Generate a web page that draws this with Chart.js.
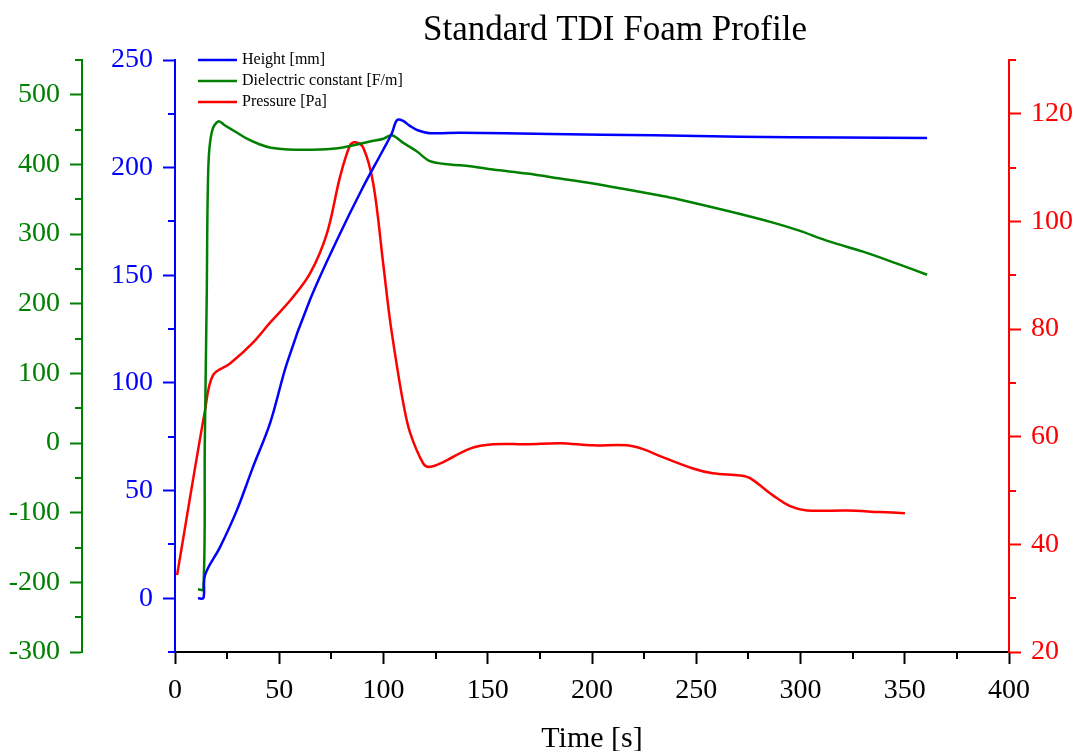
<!DOCTYPE html>
<html>
<head>
<meta charset="utf-8">
<title>Standard TDI Foam Profile</title>
<script src="https://cdn.jsdelivr.net/npm/chart.js@4/dist/chart.umd.min.js"></script>
<style>
  html, body { margin: 0; padding: 0; background: #fff; }
  #wrap { width: 1076px; height: 751px; position: relative; }
</style>
</head>
<body>
<div id="wrap"><canvas id="foamChart"></canvas></div>
<script>
// Height [mm] against time [s]
var heightTime   = [11, 13.6, 14.4, 21.6, 29.7, 37.4, 45.6, 53.7, 64.7, 77.7, 90.2, 99.8, 104, 106.5, 109.4, 112.5, 116.1, 122.3, 136.7, 180, 230, 271, 320, 360.7];
var heightValues = [0, 0, 10.7, 23.7, 40.9, 60.9, 81.3, 109.2, 138.5, 166.4, 191, 208.2, 216, 222.1, 221.7, 219.5, 217.5, 216, 216.2, 215.6, 215, 214.4, 214, 213.8];

// Dielectric constant [F/m]
var dielTime   = [11, 13.6, 14.3, 15.2, 16.0, 17.6, 20.8, 24, 29, 34.5, 40.5, 46, 54, 69.5, 80.5, 93.5, 100, 104, 109.5, 115.9, 122.3, 131.9, 141.5, 152.5, 168.8, 184.7, 200.5, 216.8, 232.6, 240.8, 266.2, 286.8, 298.3, 314.1, 330, 346.3, 360.7];
var dielValues = [-210, -210, 0, 206, 397, 446, 462, 456, 447, 437, 429, 424, 421.6, 421.6, 424.5, 433, 437, 442, 431, 419, 404.8, 400, 397.6, 392.8, 387, 379.9, 372.7, 364, 355.4, 350.5, 332.4, 316.5, 306, 289.2, 274.8, 257.6, 241.7];

// Pressure [Pa]
var pressTime   = [1, 14.4, 18.2, 26.4, 37.4, 45.6, 55.2, 64.7, 72.8, 79.1, 83.9, 86.3, 90.3, 95.1, 99.9, 103, 106.3, 109.5, 112.7, 119.1, 122.3, 128.7, 141.5, 152.5, 168.8, 184.7, 200.5, 216.8, 224.5, 232.6, 248.4, 258, 271, 275.8, 286.8, 295, 303.1, 322.3, 338.1, 350.1];
var pressValues = [34.3, 64.9, 71.4, 73.6, 77.5, 81.2, 85.3, 90.3, 97.7, 108.2, 114.1, 114.7, 113.7, 107, 92, 82, 73.5, 66.2, 60.8, 55, 54.4, 55.3, 57.8, 58.6, 58.6, 58.8, 58.4, 58.4, 57.7, 56.4, 54.1, 53.2, 52.8, 52.3, 49.1, 47.1, 46.3, 46.3, 46.0, 45.8];

// labelled tick values for each axis
var timeTicks   = [0, 50, 100, 150, 200, 250, 300, 350, 400];
var heightTicks = [0, 50, 100, 150, 200, 250];
var dielTicks   = [-300, -200, -100, 0, 100, 200, 300, 400, 500];
var pressTicks  = [20, 40, 60, 80, 100, 120];

var serif = "'Liberation Serif', 'Times New Roman', serif";

function toPoints(xs, ys) {
    return xs.map(function (x, i) { return { x: x, y: ys[i] }; });
}

function fixedTicks(list) {
    return function (scale) {
        scale.ticks = list.map(function (v) { return { value: v }; });
    };
}

function yAxis(color, min, max, ticks, position, weight, width) {
    return {
        type: "linear",
        position: position,
        weight: weight,
        min: min,
        max: max,
        afterBuildTicks: fixedTicks(ticks),
        afterFit: function (scale) { scale.width = width; },
        ticks: { color: color, font: { family: serif, size: 28 }, padding: 10 },
        grid: { drawOnChartArea: false, tickLength: 12, tickWidth: 2, tickColor: color },
        border: { color: color, width: 2 }
    };
}

// short tick marks halfway between the labelled ones
var minorTicks = {
    id: "minorTicks",
    afterDraw: function (chart) {
        var ctx = chart.ctx;
        ctx.save();
        ctx.lineWidth = 2;
        Object.keys(chart.scales).forEach(function (id) {
            var s = chart.scales[id];
            var t = s.ticks;
            var step = t[1].value - t[0].value;
            ctx.strokeStyle = s.options.border.color;
            for (var v = t[0].value - step / 2; v <= s.max + 1e-9; v += step) {
                if (v < s.min - 1e-9) continue;
                var p = Math.round(s.getPixelForValue(v));
                ctx.beginPath();
                if (s.isHorizontal()) {
                    ctx.moveTo(p, s.top); ctx.lineTo(p, s.top + 7);
                } else if (s.position === "left") {
                    ctx.moveTo(s.right, p); ctx.lineTo(s.right - 7, p);
                } else {
                    ctx.moveTo(s.left, p); ctx.lineTo(s.left + 7, p);
                }
                ctx.stroke();
            }
        });
        ctx.restore();
    }
};

// legend in the top left corner of the plot and the chart heading
var cornerLegend = {
    id: "cornerLegend",
    afterDraw: function (chart) {
        var ctx = chart.ctx, a = chart.chartArea;
        ctx.save();
        ctx.font = "16px " + serif;
        ctx.textBaseline = "middle";
        chart.data.datasets.forEach(function (ds, i) {
            var y = a.top + 21 * i;
            ctx.strokeStyle = ds.borderColor;
            ctx.lineWidth = 2.5;
            ctx.beginPath();
            ctx.moveTo(a.left + 23, y);
            ctx.lineTo(a.left + 62, y);
            ctx.stroke();
            ctx.fillStyle = "#000";
            ctx.fillText(ds.label, a.left + 67, y);
        });
        ctx.font = "35px " + serif;
        ctx.textAlign = "center";
        ctx.fillText("Standard TDI Foam Profile", (a.left + a.right) / 2 + 23, 31);
        ctx.restore();
    }
};

var ctx = document.getElementById("foamChart").getContext("2d");

var foamChart = new Chart(ctx, {
    type: "line",
    data: {
        datasets: [{
            label: "Height [mm]",
            data: toPoints(heightTime, heightValues),
            borderColor: "#0000ff",
            yAxisID: "yHeight"
        }, {
            label: "Dielectric constant [F/m]",
            data: toPoints(dielTime, dielValues),
            borderColor: "#008000",
            yAxisID: "yDiel"
        }, {
            label: "Pressure [Pa]",
            data: toPoints(pressTime, pressValues),
            borderColor: "#ff0000",
            yAxisID: "yPress"
        }]
    },
    options: {
        responsive: true,
        maintainAspectRatio: false,
        animation: false,
        events: [],
        layout: { padding: { top: 60, left: 0, right: 0, bottom: 0 } },
        elements: {
            line: { borderWidth: 2.5, tension: 0.35, fill: false },
            point: { radius: 0 }
        },
        plugins: {
            legend: { display: false },
            title: { display: false },
            tooltip: { enabled: false }
        },
        scales: {
            x: {
                type: "linear",
                position: "bottom",
                min: 0,
                max: 400,
                afterBuildTicks: fixedTicks(timeTicks),
                afterFit: function (scale) { scale.height = 99; },
                ticks: { color: "#000", font: { family: serif, size: 28 }, padding: 10, maxRotation: 0 },
                grid: { drawOnChartArea: false, tickLength: 12, tickWidth: 2, tickColor: "#000" },
                border: { color: "#000", width: 2 },
                title: {
                    display: true,
                    text: "Time [s]",
                    color: "#000",
                    font: { family: serif, size: 30, lineHeight: 1 },
                    padding: { top: 0, bottom: -3 }
                }
            },
            yDiel: yAxis("#008000", -300, 550, dielTicks, "left", 2, 82),
            yHeight: yAxis("#0000ff", -25, 250, heightTicks, "left", 1, 93),
            yPress: yAxis("#ff0000", 20, 130, pressTicks, "right", 0, 67)
        }
    },
    plugins: [minorTicks, cornerLegend]
});
</script>
</body>
</html>
